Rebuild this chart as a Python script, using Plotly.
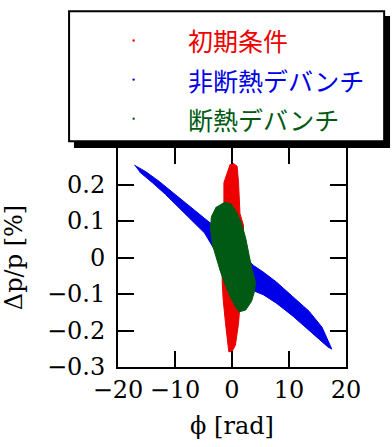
import plotly.graph_objects as go

# Outline of each particle distribution (phase in rad, dp/p in %)
blue_phi = [-17.12, -15.11, -12.82, -9.96, -7.09, -4.24, -3.38, 0.2, 3.78, 5.49, 7.78, 10.64, 13.51, 15.79, 17.51,
            16.82, 15.79, 13.51, 10.64, 7.78, 5.49, 4.07, 0.5, -3.09, -4.81, -7.09, -9.39, -11.68, -13.96, -16.26]
blue_dp = [0.253, 0.235, 0.209, 0.173, 0.138, 0.102, 0.089, 0.035, -0.022, -0.040, -0.067, -0.107, -0.147, -0.191, -0.251,
           -0.245, -0.231, -0.200, -0.160, -0.125, -0.102, -0.093, -0.035, 0.022, 0.067, 0.102, 0.138, 0.173, 0.205, 0.235]

red_phi = [0.2, 0.9, 1.15, 1.4, 2.0, 2.1, 1.9, 1.42, 1.15, 0.6, 0.0,
           -0.57, -1.15, -1.55, -1.72, -1.7, -1.42, -1.42, -0.86, -0.3]
red_dp = [0.258, 0.25, 0.205, 0.12, 0.089, 0.0, -0.1, -0.125, -0.18, -0.24, -0.258,
          -0.258, -0.178, -0.115, -0.067, 0.0, 0.151, 0.205, 0.231, 0.256]

green_phi = [-1.37, -0.17, 0.86, 1.72, 2.40, 2.92, 3.43, 4.12, 3.95, 3.43, 2.40, 1.20, 0.34,
             -0.34, -1.20, -2.06, -2.75, -3.43, -3.78, -3.61, -2.75]
green_dp = [0.152, 0.147, 0.123, 0.091, 0.053, 0.013, -0.027, -0.067, -0.093, -0.120, -0.144, -0.149, -0.128,
            -0.107, -0.075, -0.037, 0.0, 0.035, 0.080, 0.112, 0.139]

legend_names = ["初期条件", "非断熱デバンチ", "断熱デバンチ"]
x_ticks = [-20, -10, 0, 10, 20]
y_ticks = [-0.3, -0.2, -0.1, 0, 0.1, 0.2]

RED, BLUE, GREEN = "#ee0000", "#0000e6", "#005a14"

W, H = 392, 447
L, R, T, B = 113, 346, 148, 372


def px(x):
    return (x - L) / (R - L)


def py(y):
    return (B - y) / (B - T)


fig = go.Figure()
for xs, ys, c in [(blue_phi, blue_dp, BLUE), (red_phi, red_dp, RED), (green_phi, green_dp, GREEN)]:
    fig.add_trace(go.Scatter(x=xs, y=ys, mode="lines", fill="toself", fillcolor=c,
                             line=dict(color=c, width=1), hoverinfo="skip", showlegend=False))

tickfont = dict(family="DejaVu Serif", size=24, color="black")
axis_common = dict(showline=True, linecolor="black", linewidth=2, mirror="ticks",
                   ticks="inside", ticklen=16, tickwidth=2, tickcolor="black",
                   showgrid=False, zeroline=False, tickfont=tickfont)

fig.update_layout(
    width=W, height=H,
    margin=dict(l=L, r=W - R, t=T, b=H - B),
    paper_bgcolor="white", plot_bgcolor="white",
    xaxis=dict(range=[-20, 20], tickvals=x_ticks, ticktext=[str(v).replace("-", "−") for v in x_ticks],
               title=dict(text="ϕ [rad]", font=dict(family="DejaVu Serif", size=24, color="black"), standoff=14),
               **axis_common),
    yaxis=dict(range=[-0.3, 0.3], tickvals=y_ticks,
               ticktext=[("0" if v == 0 else f"{v:g}").replace("-", "−") for v in y_ticks],
               ticklabelstandoff=6,
               title=dict(text="Δp/p [%]", font=dict(family="DejaVu Serif", size=24, color="black"), standoff=18),
               **axis_common),
)

# Legend box with drop shadow
shapes = [
    dict(type="rect", xref="paper", yref="paper", x0=px(68), x1=px(391), y0=py(148), y1=py(13),
         fillcolor="black", line=dict(width=0), layer="above"),
    dict(type="rect", xref="paper", yref="paper", x0=px(63), x1=px(385), y0=py(141), y1=py(8),
         fillcolor="white", line=dict(color="black", width=2), layer="above"),
]
rows_y = [38, 78, 118]
colors = [RED, BLUE, GREEN]
for yy, c in zip(rows_y, colors):
    shapes.append(dict(type="circle", xref="paper", yref="paper", x0=px(127.8), x1=px(130.2),
                       y0=py(yy + 1.2), y1=py(yy - 1.2), fillcolor=c, line=dict(width=0), layer="above"))
fig.update_layout(shapes=shapes)

for name, yy, c in zip(legend_names, rows_y, colors):
    fig.add_annotation(xref="paper", yref="paper", x=px(182), y=py(yy), xanchor="left", yanchor="middle",
                       text=name, showarrow=False,
                       font=dict(family="Noto Sans CJK JP", size=25, color=c))

fig.write_html("out.html")
